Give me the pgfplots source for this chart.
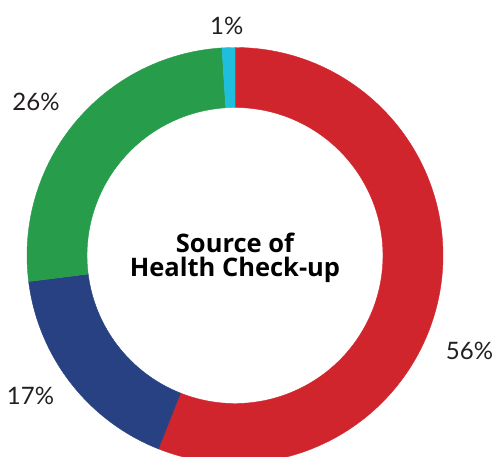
\documentclass[border=0pt]{standalone}
\usepackage{fontspec}
\setmainfont{Lato}
\newfontfamily\titlefont{Open Sans}
\usepackage{pgfplots}
\usepackage{pgfplotstable}
\pgfplotsset{compat=1.18}
\definecolor{labtxt}{RGB}{35,31,32}
\definecolor{slice0}{RGB}{209,37,45}
\definecolor{slice1}{RGB}{39,65,130}
\definecolor{slice2}{RGB}{39,156,74}
\definecolor{slice3}{RGB}{30,190,220}
\pgfdeclareplotmark{emptymark}{}
% slices: start (cumulative %) and share (%), clockwise from 12 o'clock
\pgfplotstableread{
x y idx start pct
0 0 0 0 56
0 0 1 56 17
0 0 2 73 26
0 0 3 99 1
}\slices
\begin{document}
\begin{tikzpicture}
\begin{axis}[
  width=496pt, height=457pt, scale only axis,
  xmin=-235, xmax=261, ymin=-201.5, ymax=255.5,
  hide axis, clip=true, clip marker paths=true,
]
\addplot[scatter, only marks, mark=emptymark, point meta=explicit,
  visualization depends on={\thisrow{start}\as\st},
  visualization depends on={\thisrow{pct}\as\pc},
  visualization depends on={\thisrow{idx}\as\ix},
  scatter/@pre marker code/.code={%
    \pgfmathsetmacro\aS{90-3.6*\st}%
    \pgfmathsetmacro\aE{90-3.6*(\st+\pc)}%
    \pgfmathtruncatemacro\ci{\ix}%
    \fill[slice\ci] (\aS:208pt) arc[start angle=\aS, end angle=\aE, radius=208pt]
      -- (\aE:148pt) arc[start angle=\aE, end angle=\aS, radius=148pt] -- cycle;
  },
  scatter/@post marker code/.code={},
] table[x=x, y=y, meta=pct] {\slices};
\begin{scope}[every node/.style={font=\fontsize{24}{28}\selectfont, text=labtxt, inner sep=0pt}]
\node at (axis cs:-8.3,229.5) {1\%};
\node at (axis cs:-199,153.5) {26\%};
\node at (axis cs:234.5,-95) {56\%};
\node at (axis cs:-204.5,-140.5) {17\%};
\end{scope}
\node[anchor=base, font=\titlefont\fontsize{25.5}{28}\selectfont\bfseries, text=black, inner sep=0pt] at (axis cs:0,2.8) {Source of};
\node[anchor=base, font=\titlefont\fontsize{25.5}{28}\selectfont\bfseries, text=black, inner sep=0pt] at (axis cs:0,-21.2) {Health Check-up};
\end{axis}
\path (current axis.south west) rectangle (current axis.north east);
\end{tikzpicture}
\end{document}
